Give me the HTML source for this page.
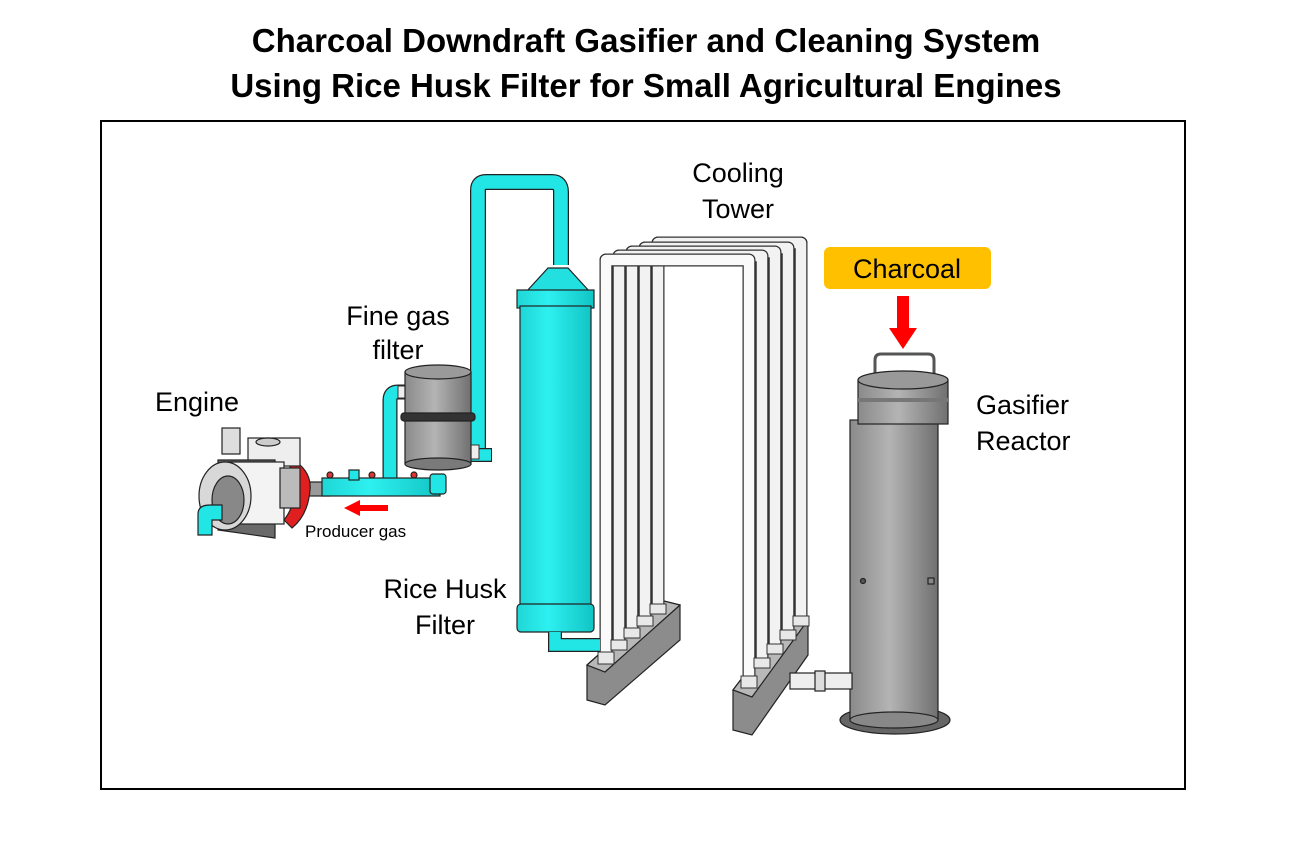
<!DOCTYPE html>
<html><head><meta charset="utf-8"><style>
html,body{margin:0;padding:0;background:#fff;}
svg{display:block;}
text{font-family:"Liberation Sans",sans-serif;}
</style></head><body>
<svg width="1292" height="853" viewBox="0 0 1292 853" xmlns="http://www.w3.org/2000/svg">
<defs>
<linearGradient id="cy" x1="0" x2="1"><stop offset="0" stop-color="#1fd6d6"/><stop offset="0.4" stop-color="#2ef0f0"/><stop offset="1" stop-color="#12c4c4"/></linearGradient>
<linearGradient id="gr" x1="0" x2="1"><stop offset="0" stop-color="#8a8a8a"/><stop offset="0.45" stop-color="#b4b4b4"/><stop offset="1" stop-color="#707070"/></linearGradient>
</defs>
<text x="646" y="52" font-size="33" font-weight="bold" text-anchor="middle">Charcoal Downdraft Gasifier and Cleaning System</text>
<text x="646" y="97" font-size="33" font-weight="bold" text-anchor="middle">Using Rice Husk Filter for Small Agricultural Engines</text>
<rect x="101" y="121" width="1084" height="668" fill="none" stroke="#000" stroke-width="2"/>

<!-- cooling tower bases -->
<g stroke="#222" stroke-width="1.2">
<polygon points="587,665 660,600 680,605 680,640 605,705 587,700" fill="#8c8c8c"/>
<polygon points="587,665 660,600 680,605 605,672" fill="#b8b8b8"/>
<polygon points="733,690 790,615 808,620 808,655 752,735 733,730" fill="#8c8c8c"/>
<polygon points="733,690 790,615 808,620 752,697" fill="#b8b8b8"/>
</g>
<!-- white pipes back to front -->
<g fill="none" stroke-linejoin="round">
<g stroke="#333" stroke-width="13">
<path d="M658,610 V243 H801 V622"/>
<path d="M645,622 V248 H788 V636"/>
<path d="M632,634 V252 H775 V650"/>
<path d="M619,646 V256 H762 V664"/>
<path d="M606,658 V260 H749 V682"/>
</g>
</g>
<g fill="none" stroke-linejoin="round">
<path d="M658,610 V243 H801 V622" stroke="#333" stroke-width="13"/><path d="M658,610 V243 H801 V622" stroke="#f2f2f2" stroke-width="10.5"/>
<path d="M645,622 V248 H788 V636" stroke="#333" stroke-width="13"/><path d="M645,622 V248 H788 V636" stroke="#f2f2f2" stroke-width="10.5"/>
<path d="M632,634 V252 H775 V650" stroke="#333" stroke-width="13"/><path d="M632,634 V252 H775 V650" stroke="#f2f2f2" stroke-width="10.5"/>
<path d="M619,646 V256 H762 V664" stroke="#333" stroke-width="13"/><path d="M619,646 V256 H762 V664" stroke="#f2f2f2" stroke-width="10.5"/>
<path d="M606,658 V260 H749 V682" stroke="#333" stroke-width="13"/><path d="M606,658 V260 H749 V682" stroke="#fafafa" stroke-width="10.5"/>
</g>
<g fill="#e8e8e8" stroke="#333" stroke-width="1">
<rect x="598" y="652" width="16" height="12"/><rect x="611" y="640" width="16" height="10"/><rect x="624" y="628" width="16" height="10"/><rect x="637" y="616" width="16" height="10"/><rect x="650" y="604" width="16" height="10"/>
<rect x="741" y="676" width="16" height="12"/><rect x="754" y="658" width="16" height="10"/><rect x="767" y="644" width="16" height="10"/><rect x="780" y="630" width="16" height="10"/><rect x="793" y="616" width="16" height="10"/>
</g>

<!-- rice husk filter -->
<g stroke="#222" stroke-width="1.2">
<path d="M478,455 V190 Q478,182 486,182 H552 Q561,182 561,192 V265" fill="none" stroke="#222" stroke-width="16"/>
<path d="M478,455 V190 Q478,182 486,182 H552 Q561,182 561,192 V265" fill="none" stroke="#22e6e6" stroke-width="13.5"/>
<path d="M468,455 H492" stroke="#222" stroke-width="14"/>
<path d="M469,455 H491" stroke="#22e6e6" stroke-width="11.5"/>
<polygon points="548,268 568,268 590,292 526,292" fill="#22e0e0"/>
<rect x="517" y="290" width="77" height="18" fill="url(#cy)"/>
<rect x="520" y="306" width="71" height="302" fill="url(#cy)"/>
<rect x="517" y="604" width="77" height="28" rx="4" fill="url(#cy)"/>
<path d="M555,632 V645 H600" fill="none" stroke="#222" stroke-width="14"/>
<path d="M555,632 V645 H600" fill="none" stroke="#22e6e6" stroke-width="11.5"/>
</g>

<!-- fine gas filter pipes -->
<path d="M390,478 V400 Q390,392 398,392 H408" fill="none" stroke="#222" stroke-width="15"/>
<path d="M390,478 V400 Q390,392 398,392 H408" fill="none" stroke="#22e6e6" stroke-width="12.5"/>
<rect x="398" y="386" width="12" height="12" fill="#eee" stroke="#333"/>
<rect x="465" y="445" width="14" height="14" fill="#eee" stroke="#333"/>
<!-- fine gas filter -->
<g stroke="#222" stroke-width="1.2">
<rect x="405" y="372" width="66" height="92" fill="url(#gr)"/>
<ellipse cx="438" cy="372" rx="33" ry="7" fill="#9a9a9a"/>
<ellipse cx="438" cy="464" rx="33" ry="6" fill="#7a7a7a"/>
<rect x="401" y="413" width="74" height="8" rx="3" fill="#333"/>
</g>
<!-- manifold -->
<g stroke="#222" stroke-width="1.2">
<rect x="300" y="482" width="30" height="14" fill="#999"/>
<rect x="322" y="478" width="118" height="18" fill="url(#cy)"/>
<rect x="430" y="474" width="16" height="20" rx="3" fill="#22e6e6"/>
<rect x="349" y="470" width="10" height="10" fill="#22e6e6"/>
<circle cx="330" cy="475" r="3" fill="#d33"/><circle cx="372" cy="475" r="3" fill="#d33"/><circle cx="414" cy="475" r="3" fill="#d33"/>
</g>
<!-- engine -->
<g stroke="#222" stroke-width="1.2">
<path d="M290,458 Q312,470 310,490 Q308,515 292,528 L284,520 Q300,500 290,470Z" fill="#e02020"/>
<rect x="248" y="438" width="52" height="28" fill="#eee"/>
<ellipse cx="268" cy="442" rx="12" ry="4" fill="#ccc"/>
<rect x="222" y="428" width="18" height="26" fill="#ddd"/>
<polygon points="218,460 275,460 275,538 218,530" fill="#6a6a6a"/>
<rect x="228" y="462" width="56" height="62" fill="#f3f3f3"/>
<rect x="280" y="468" width="20" height="40" fill="#bbb"/>
<ellipse cx="225" cy="496" rx="26" ry="34" fill="#d8d8d8"/>
<ellipse cx="228" cy="500" rx="16" ry="24" fill="#888"/>
<path d="M198,514 Q198,505 210,505 H222 V520 H212 V535 H198Z" fill="#22e6e6"/>
</g>
<!-- gasifier -->
<g stroke="#222" stroke-width="1.2">
<path d="M875,374 V360 Q875,354 881,354 H928 Q934,354 934,360 V374" fill="none" stroke="#555" stroke-width="3"/>
<ellipse cx="895" cy="720" rx="55" ry="14" fill="#666"/>
<rect x="850" y="420" width="88" height="300" fill="url(#gr)"/>
<ellipse cx="894" cy="720" rx="44" ry="8" fill="#888"/>
<rect x="858" y="380" width="90" height="44" fill="url(#gr)"/>
<ellipse cx="903" cy="380" rx="45" ry="9" fill="#999"/>
<rect x="858" y="398" width="90" height="4" fill="#777" stroke="none"/>
<rect x="790" y="673" width="62" height="16" fill="#eee"/>
<rect x="815" y="671" width="10" height="20" fill="#ddd"/>
<circle cx="863" cy="581" r="2.5" fill="#555"/>
<rect x="928" y="578" width="6" height="6" fill="#888"/>
</g>
<!-- charcoal label -->
<rect x="824" y="247" width="167" height="42" rx="6" fill="#ffc000"/>
<text x="907" y="278" font-size="27" text-anchor="middle">Charcoal</text>
<rect x="897" y="296" width="12" height="34" fill="#ff0000"/>
<polygon points="889,328 917,328 903,349" fill="#ff0000"/>
<!-- producer gas arrow -->
<rect x="358" y="505" width="30" height="6" fill="#ff0000"/>
<polygon points="360,500 360,516 344,508" fill="#ff0000"/>
<text x="305" y="537" font-size="17">Producer gas</text>
<!-- labels -->
<g font-size="27">
<text x="738" y="182" text-anchor="middle">Cooling</text>
<text x="738" y="218" text-anchor="middle">Tower</text>
<text x="398" y="325" text-anchor="middle">Fine gas</text>
<text x="398" y="359" text-anchor="middle">filter</text>
<text x="155" y="411">Engine</text>
<text x="976" y="414">Gasifier</text>
<text x="976" y="450">Reactor</text>
<text x="445" y="598" text-anchor="middle">Rice Husk</text>
<text x="445" y="634" text-anchor="middle">Filter</text>
</g>
</svg>
</body></html>
